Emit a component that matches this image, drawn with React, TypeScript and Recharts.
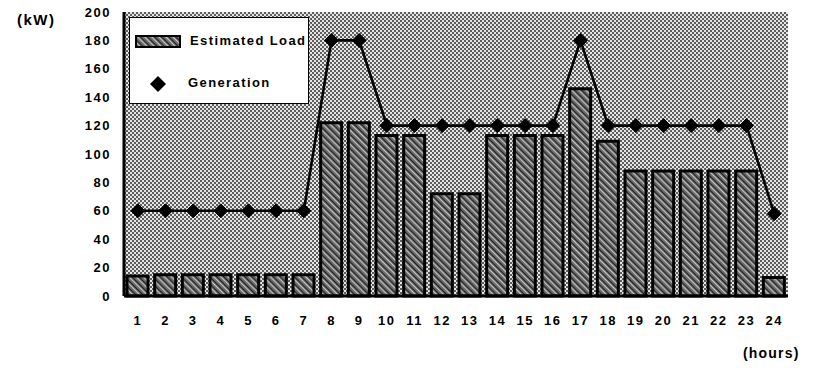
import React from 'react';
import { ComposedChart, Bar, Line, XAxis, YAxis, CartesianGrid } from 'recharts';

const hours = ['1','2','3','4','5','6','7','8','9','10','11','12','13','14','15','16','17','18','19','20','21','22','23','24'];
const estimatedLoad = [14, 15, 15, 15, 15, 15, 15, 122, 122, 113, 113, 72, 72, 113, 113, 113, 146, 109, 88, 88, 88, 88, 88, 13];
const generation = [60, 60, 60, 60, 60, 60, 60, 180, 180, 120, 120, 120, 120, 120, 120, 120, 180, 120, 120, 120, 120, 120, 120, 58];
const yTicks = [0, 20, 40, 60, 80, 100, 120, 140, 160, 180, 200];

const data = hours.map((h, i) => ({ hour: h, load: estimatedLoad[i], gen: generation[i] }));

const FONT = '"Liberation Sans", Arial, sans-serif';

const Diamond = (props: any) => {
  const { cx, cy, index } = props;
  if (cx == null || cy == null) return <g key={`d-${index}`} />;
  const r = 7;
  return (
    <path key={`d-${index}`} d={`M${cx},${cy - r} L${cx + r},${cy} L${cx},${cy + r} L${cx - r},${cy} Z`} fill="#000" stroke="#000" strokeWidth={1} />
  );
};

const tickStyle = { fill: '#000', fontSize: 13, fontWeight: 700, fontFamily: FONT, letterSpacing: 1.5 };

export default function App() {
  return (
    <div style={{ position: 'absolute', left: 0, top: 0, width: 814, height: 368, background: '#fff', fontFamily: FONT }}>
      <svg width={0} height={0} style={{ position: 'absolute' }}>
        <defs>
          <pattern id="dots" width="4" height="4" patternUnits="userSpaceOnUse">
            <rect width="4" height="4" fill="#e6e6e6" />
            <rect x="0" y="0" width="2" height="2" fill="#5e5e5e" />
            <rect x="2" y="2" width="2" height="2" fill="#5e5e5e" />
          </pattern>
          <pattern id="hatch" width="5" height="5" patternUnits="userSpaceOnUse" patternTransform="rotate(-45)">
            <rect width="5" height="5" fill="#6e6e6e" />
            <line x1="0" y1="0" x2="0" y2="5" stroke="#dcdcdc" strokeWidth="1.6" />
            <line x1="2.5" y1="0" x2="2.5" y2="5" stroke="#222" strokeWidth="1.2" />
          </pattern>
        </defs>
      </svg>
      <ComposedChart width={814} height={368} data={data} margin={{ top: 12, right: 26, bottom: 0, left: 0 }}>
        <CartesianGrid horizontal={false} vertical={false} fill="url(#dots)" />
        <XAxis
          dataKey="hour"
          height={72}
          axisLine={{ stroke: '#000', strokeWidth: 3 }}
          tickLine={false}
          tickSize={0}
          tickMargin={20}
          interval={0}
          tick={tickStyle}
        />
        <XAxis xAxisId="top" orientation="top" dataKey="hour" height={0} tick={false} tickLine={false} axisLine={{ stroke: '#000', strokeWidth: 1.5 }} />
        <YAxis
          domain={[0, 200]}
          ticks={yTicks}
          width={124}
          axisLine={{ stroke: '#000', strokeWidth: 3 }}
          tickLine={false}
          tickSize={0}
          tickMargin={13}
          interval={0}
          tick={tickStyle}
        />
        <YAxis yAxisId="right" orientation="right" width={0} domain={[0, 200]} tick={false} tickLine={false} axisLine={{ stroke: '#000', strokeWidth: 1.5 }} />
        <Bar dataKey="load" barSize={21} fill="url(#hatch)" stroke="#000" strokeWidth={3} isAnimationActive={false} />
        <Line dataKey="gen" stroke="#000" strokeWidth={2.6} dot={Diamond} activeDot={false} isAnimationActive={false} />
      </ComposedChart>
      <div style={{ position: 'absolute', left: 129, top: 17, width: 180, height: 87, background: '#fff', border: '1px solid #000', boxSizing: 'border-box' }}>
        <svg width={46} height={13} style={{ position: 'absolute', left: 5, top: 17 }}>
          <rect x={1} y={1} width={44} height={11} fill="url(#hatch)" stroke="#000" strokeWidth={2} />
        </svg>
        <div style={{ position: 'absolute', left: 60, top: 15, fontSize: 13, fontWeight: 700, color: '#000', whiteSpace: 'nowrap', letterSpacing: 1.4 }}>Estimated Load</div>
        <svg width={16} height={16} style={{ position: 'absolute', left: 20, top: 58 }}>
          <path d="M8,0 L16,8 L8,16 L0,8 Z" fill="#000" />
        </svg>
        <div style={{ position: 'absolute', left: 58, top: 57, fontSize: 13, fontWeight: 700, color: '#000', whiteSpace: 'nowrap', letterSpacing: 1.4 }}>Generation</div>
      </div>
      <div style={{ position: 'absolute', left: 17, top: 11, fontSize: 15, fontWeight: 700, color: '#000', letterSpacing: 1.5 }}>(kW)</div>
      <div style={{ position: 'absolute', left: 743, top: 345, fontSize: 14, fontWeight: 700, color: '#000', letterSpacing: 1.2 }}>(hours)</div>
    </div>
  );
}
